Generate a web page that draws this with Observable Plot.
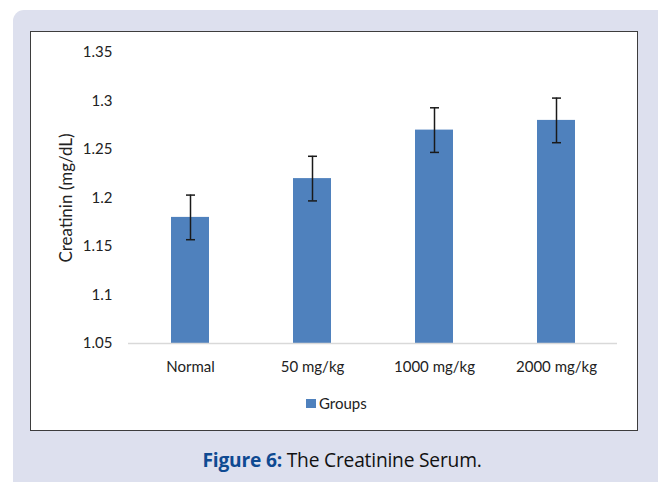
<!DOCTYPE html>
<html>
<head>
<meta charset="utf-8">
<script src="https://cdn.jsdelivr.net/npm/d3@7"></script>
<script src="https://cdn.jsdelivr.net/npm/@observablehq/plot@0.6"></script>
<style>
  html, body { margin: 0; padding: 0; background: #ffffff; }
  #page { position: relative; width: 658px; height: 482px; overflow: hidden; background: #fff; }
  #panel { position: absolute; left: 13px; top: 10px; width: 645px; height: 472px; background: #dde0ee; border-top-left-radius: 11px; }
  #box { position: absolute; left: 30px; top: 31px; width: 606px; height: 398px; background: #fff; border: 1.5px solid #3d3d3d; box-sizing: content-box; }
  #chart { position: absolute; left: 0; top: 0; }
  #legend { position: absolute; left: 306px; top: 394px; font: 15px Lato, "Open Sans", sans-serif; color: #222; display: flex; align-items: center; }
  #legend .sw { width: 10px; height: 9px; background: #4f81bd; margin-right: 3px; }
  #caption { position: absolute; left: 13px; width: 658px; top: 446px; text-align: center; font: 19.2px "Open Sans", "Noto Sans", sans-serif; color: #111; letter-spacing: -0.2px; white-space: nowrap; }
  #caption b { color: #0e4a92; font-weight: 700; }
</style>
</head>
<body>
<div id="page">
  <div id="panel"></div>
  <div id="box"></div>
  <div id="chart"></div>
  <div id="legend"><div class="sw"></div><span>Groups</span></div>
  <div id="caption"><b>Figure 6:</b> The Creatinine Serum.</div>
</div>
<script>
const groups = ["Normal", "50 mg/kg", "1000 mg/kg", "2000 mg/kg"];
const creatinine = [1.18, 1.22, 1.27, 1.28];
const errors = [0.023, 0.023, 0.023, 0.023];
const yTicks = [1.05, 1.1, 1.15, 1.2, 1.25, 1.3, 1.35];
const yLabel = "Creatinin (mg/dL)";
const seriesName = "Groups";

const rows = groups.map((g, i) => ({group: g, value: creatinine[i], err: errors[i]}));
const yMin = yTicks[0], yMax = yTicks[yTicks.length - 1];

const capSymbol = {
  draw(context, size) {
    const w = Math.sqrt(size / Math.PI);
    context.moveTo(-w, 0);
    context.lineTo(w, 0);
  }
};

const fontFam = "Lato, 'Open Sans', sans-serif";

const chart = Plot.plot({
  width: 658,
  height: 390,
  marginLeft: 128,
  marginRight: 41,
  marginTop: 52,
  marginBottom: 47,
  style: {background: "transparent", fontFamily: fontFam, fontSize: "15px", color: "#222"},
  x: {domain: groups, paddingInner: 0.69, paddingOuter: 0.345, label: null, tickSize: 0, tickPadding: 18},
  y: {domain: [yMin, yMax], ticks: yTicks, tickFormat: d => String(+d.toFixed(2)), label: null, tickSize: 0, tickPadding: 16},
  marks: [
    Plot.barY(rows, {x: "group", y1: () => yMin, y2: "value", fill: "#4f81bd"}),
    Plot.ruleY([yMin], {stroke: "#d9d9d9", strokeWidth: 1.5}),
    Plot.ruleX(rows, {x: "group", y1: d => d.value - d.err, y2: d => d.value + d.err, stroke: "#1a1a1a", strokeWidth: 1.5}),
    Plot.dot(rows, {x: "group", y: d => d.value + d.err, symbol: capSymbol, r: 4.5, stroke: "#1a1a1a", strokeWidth: 1.5, fill: "none"}),
    Plot.dot(rows, {x: "group", y: d => d.value - d.err, symbol: capSymbol, r: 4.5, stroke: "#1a1a1a", strokeWidth: 1.5, fill: "none"}),
    Plot.text([yLabel], {frameAnchor: "left", textAnchor: "middle", dx: -62, rotate: -90, fontSize: 17, fill: "#222"})
  ]
});
document.getElementById("chart").appendChild(chart);
document.querySelector("#legend span").textContent = seriesName;
</script>
</body>
</html>
